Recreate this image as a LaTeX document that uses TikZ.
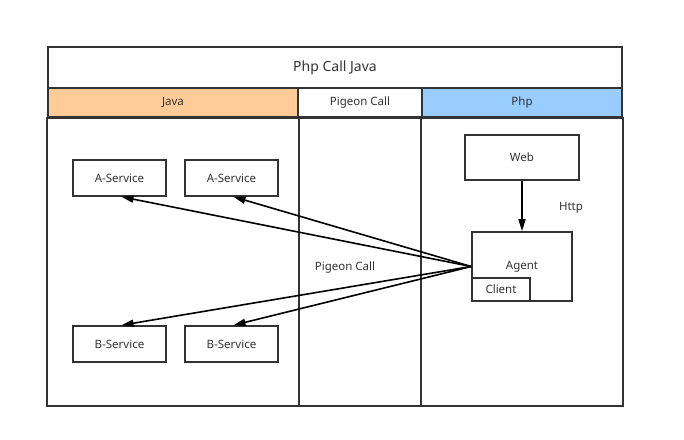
\documentclass[tikz,border=0pt]{standalone}
\usepackage{fontspec}
\setmainfont{Noto Sans}
\usetikzlibrary{arrows.meta}
\definecolor{linegray}{HTML}{333333}
\definecolor{javafill}{HTML}{FFCC99}
\definecolor{phpfill}{HTML}{99CCFF}
\begin{document}
\begin{tikzpicture}[x=1pt,y=-1pt,
  frame/.style={draw=linegray,line width=1.6pt},
  svcbox/.style={draw=linegray,line width=1.6pt,fill=white,minimum width=93pt,minimum height=36pt,inner sep=0pt,font=\fontsize{11.5}{13}\selectfont,text=linegray},
  hdr/.style={draw=linegray,line width=1.6pt,inner sep=0pt,font=\fontsize{11.5}{13}\selectfont,text=linegray},
  lbl/.style={inner sep=0pt,font=\fontsize{11.5}{13}\selectfont,text=linegray},
  call/.style={draw=black,line width=1.6pt,-{Triangle[length=12pt,width=7pt]}}]
\useasboundingbox (0,0) rectangle (684,439);
\fill[white] (0,0) rectangle (684,439);
% swimlane frame
\node[hdr,minimum width=574pt,minimum height=41pt] (title) at (335,67.5) {\fontsize{14}{16}\selectfont Php Call Java};
\node[hdr,fill=javafill,minimum width=250pt,minimum height=29pt] (java) at (173,102.5) {Java};
\node[hdr,minimum width=124pt,minimum height=29pt] (pigeon) at (360,102.5) {Pigeon Call};
\node[hdr,fill=phpfill,minimum width=200pt,minimum height=29pt] (php) at (522,102.5) {Php};
\draw[frame] (java.south west) rectangle (php.south east |- 0,406);
\draw[frame] (java.south east) -- (java.south east |- 0,406);
\draw[frame] (php.south west) -- (php.south west |- 0,406);
% Java services
\node[svcbox] (a1) at (119.5,178) {A-Service};
\node[svcbox] (a2) at (231.5,178) {A-Service};
\node[svcbox] (b1) at (119.5,344) {B-Service};
\node[svcbox] (b2) at (231.5,344) {B-Service};
% Php side
\node[svcbox,minimum width=114pt,minimum height=45pt] (web) at (522,157.5) {Web};
\node[svcbox,minimum width=100pt,minimum height=69pt] (agent) at (522,266.5) {};
\node[lbl] (agentlbl) at (522,267) {Agent};
\node[svcbox,anchor=south west,minimum width=58pt,minimum height=23pt] (client) at (agent.south west) {Client};
% labels
\node[lbl] (http) at (571,208) {Http};
\node[lbl] (pclbl) at (345,268) {Pigeon Call};
% connectors
\draw[call] (web.south) -- (agent.north);
\draw[call] (agent.west) -- ([xshift=2pt]a1.south);
\draw[call] (agent.west) -- ([xshift=2pt]a2.south);
\draw[call] (agent.west) -- ([xshift=2pt]b1.north);
\draw[call] (agent.west) -- ([xshift=2pt]b2.north);
\end{tikzpicture}
\end{document}
